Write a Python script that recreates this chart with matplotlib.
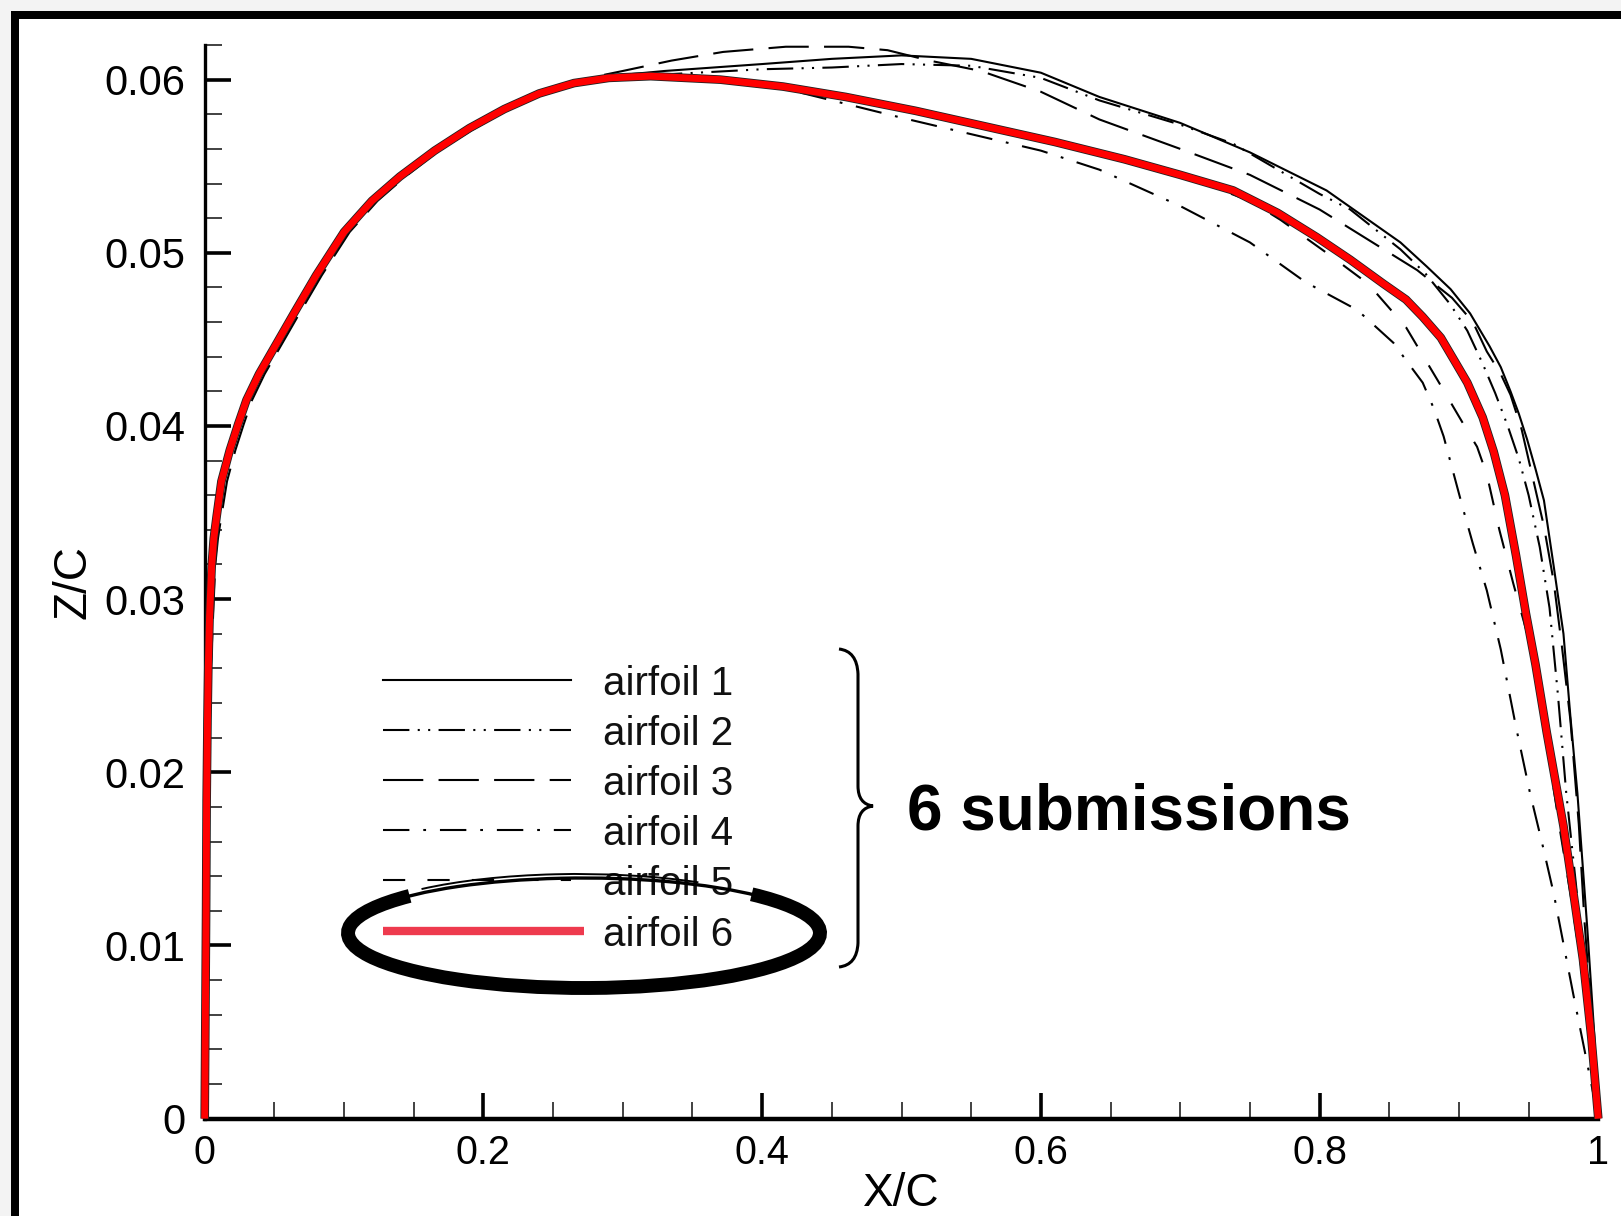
import matplotlib
matplotlib.use("Agg")
import matplotlib.pyplot as plt
import matplotlib.patheffects as pe
from matplotlib.patches import Rectangle, Arc, PathPatch
from matplotlib.path import Path
from matplotlib.lines import Line2D
from matplotlib.ticker import MultipleLocator, FuncFormatter
from matplotlib.transforms import IdentityTransform

plt.rcParams['font.family'] = ['Liberation Sans', 'DejaVu Sans']
plt.rcParams['lines.scale_dashes'] = False

# ---- data (x/c, z/c) ----
names = ["airfoil 1", "airfoil 2", "airfoil 3", "airfoil 4", "airfoil 5", "airfoil 6"]

# leading edge, where airfoils 1, 2, 4, 5 and 6 lie on top of each other
le_x = [0.0, 0.0005, 0.001, 0.0014, 0.002, 0.0026, 0.0035, 0.005, 0.0065, 0.0086, 0.012, 0.018,
        0.024, 0.030, 0.039, 0.049, 0.064, 0.080, 0.100, 0.120, 0.140, 0.165, 0.190, 0.215, 0.240, 0.265]
le_z = [0.0, 0.0060, 0.0120, 0.0184, 0.0230, 0.0261, 0.0290, 0.0319, 0.0335, 0.0348, 0.0368, 0.0386,
        0.0401, 0.0415, 0.0430, 0.0444, 0.0465, 0.0487, 0.0512, 0.0530, 0.0544, 0.0559, 0.0572, 0.0583, 0.0592, 0.0598]

# aft part of each airfoil
x1 = [0.290, 0.330, 0.400, 0.450, 0.500, 0.550, 0.600, 0.642, 0.700, 0.750, 0.805, 0.858, 0.877,
      0.894, 0.908, 0.922, 0.930, 0.937, 0.943, 0.949, 0.955, 0.961, 0.968, 0.975, 0.980, 0.985,
      0.992, 0.997, 1.0]
z1 = [0.0602, 0.0605, 0.0609, 0.0612, 0.0614, 0.0612, 0.0604, 0.0590, 0.0575, 0.0558, 0.0536, 0.0506, 0.0492,
      0.0479, 0.0465, 0.0446, 0.0434, 0.0420, 0.0407, 0.0392, 0.0375, 0.0357, 0.0319, 0.0280, 0.0232, 0.0188,
      0.0111, 0.0050, 0.0]

x2 = [0.290, 0.330, 0.400, 0.450, 0.500, 0.550, 0.600, 0.642, 0.700, 0.738, 0.800, 0.822, 0.858,
      0.876, 0.894, 0.906, 0.917, 0.926, 0.935, 0.943, 0.950, 0.958, 0.965, 0.971, 0.977, 0.984,
      0.990, 0.996, 1.0]
z2 = [0.0601, 0.0603, 0.0606, 0.0607, 0.0609, 0.0608, 0.0601, 0.0588, 0.0574, 0.0563, 0.0534, 0.0525, 0.0502,
      0.0488, 0.0470, 0.0455, 0.0436, 0.0419, 0.0400, 0.0381, 0.0360, 0.0330, 0.0295, 0.0245, 0.0188, 0.0135,
      0.0085, 0.0035, 0.0]

x3 = [0.0, 0.0006, 0.0015, 0.0024, 0.003, 0.0045, 0.006, 0.0075, 0.0095, 0.012, 0.016, 0.022, 0.028,
      0.034, 0.043, 0.053, 0.068, 0.084, 0.104, 0.124, 0.144, 0.168, 0.192, 0.216, 0.240, 0.262,
      0.282, 0.300, 0.335, 0.372, 0.417, 0.462, 0.490, 0.520, 0.557, 0.600, 0.642, 0.700, 0.750,
      0.800, 0.840, 0.870, 0.895, 0.910, 0.920, 0.930, 0.937, 0.945, 0.953, 0.961, 0.968, 0.974,
      0.980, 0.986, 0.990, 0.996, 1.0]
z3 = [0.0, 0.0060, 0.0120, 0.0184, 0.0230, 0.0261, 0.0290, 0.0319, 0.0335, 0.0348, 0.0368, 0.0386, 0.0401,
      0.0415, 0.0430, 0.0444, 0.0465, 0.0487, 0.0512, 0.0530, 0.0544, 0.0559, 0.0571, 0.0582, 0.0592, 0.0598,
      0.0602, 0.0605, 0.0611, 0.0616, 0.0619, 0.0619, 0.0617, 0.0611, 0.0605, 0.0593, 0.0577, 0.0560, 0.0545,
      0.0525, 0.0505, 0.0490, 0.0474, 0.0460, 0.0443, 0.0430, 0.0418, 0.0398, 0.0370, 0.0342, 0.0310, 0.0272,
      0.0230, 0.0170, 0.0115, 0.0050, 0.0]

x4 = [0.290, 0.320, 0.370, 0.420, 0.500, 0.600, 0.642, 0.700, 0.750, 0.790, 0.827, 0.853, 0.862,
      0.874, 0.882, 0.889, 0.896, 0.903, 0.910, 0.920, 0.930, 0.941, 0.951, 0.960, 0.968, 0.975,
      0.982, 0.991, 1.0]
z4 = [0.0601, 0.0602, 0.0600, 0.0594, 0.0578, 0.0559, 0.0548, 0.0527, 0.0506, 0.0483, 0.0467, 0.0448, 0.0438,
      0.0425, 0.0410, 0.0394, 0.0373, 0.0352, 0.0332, 0.0305, 0.0271, 0.0226, 0.0188, 0.0158, 0.0130, 0.0101,
      0.0072, 0.0036, 0.0]

x5 = [0.290, 0.320, 0.370, 0.415, 0.460, 0.510, 0.560, 0.610, 0.660, 0.700, 0.750, 0.772, 0.805,
      0.835, 0.862, 0.885, 0.904, 0.913, 0.920, 0.929, 0.939, 0.949, 0.956, 0.964, 0.972, 0.980,
      0.987, 0.994, 1.0]
z5 = [0.0601, 0.0602, 0.0600, 0.0596, 0.0590, 0.0582, 0.0573, 0.0564, 0.0554, 0.0545, 0.0530, 0.0519, 0.0500,
      0.0482, 0.0457, 0.0426, 0.0400, 0.0388, 0.0372, 0.0340, 0.0309, 0.0280, 0.0252, 0.0212, 0.0169, 0.0130,
      0.0092, 0.0046, 0.0]

x6 = [0.290, 0.320, 0.370, 0.415, 0.460, 0.510, 0.560, 0.610, 0.660, 0.700, 0.738, 0.770, 0.798,
      0.822, 0.846, 0.862, 0.874, 0.887, 0.898, 0.906, 0.917, 0.925, 0.933, 0.941, 0.948, 0.955,
      0.963, 0.975, 0.982, 0.989, 0.995, 1.0]
z6 = [0.0601, 0.0602, 0.0600, 0.0596, 0.0590, 0.0582, 0.0573, 0.0564, 0.0554, 0.0545, 0.0536, 0.0523, 0.0509,
      0.0496, 0.0482, 0.0473, 0.0463, 0.0451, 0.0436, 0.0425, 0.0405, 0.0385, 0.0360, 0.0325, 0.0292, 0.0262,
      0.0223, 0.0169, 0.0131, 0.0092, 0.0047, 0.0]

xs = [le_x + x1, le_x + x2, x3, le_x + x4, le_x + x5, le_x + x6]
zs = [le_z + z1, le_z + z2, z3, le_z + z4, le_z + z5, le_z + z6]

# line styles (points, unscaled dashes)
dashes = ["solid", (0, (19, 6, 1.5, 6, 1.5, 6)), (0, (29, 11)), (0, (19, 10, 2, 10)), (0, (16, 16)), "solid"]

W, H = 1621, 1216
fig = plt.figure(figsize=(W / 100, H / 100), dpi=100, facecolor="#f3f3f3")


def disp(x, y):
    # picture pixel (y down) -> display pixel (y up)
    return x, H - y


# screenshot frame
frame = Rectangle(disp(15, H + 60), W + 100, H + 60 - 15, transform=IdentityTransform(),
                  facecolor="white", edgecolor="black", linewidth=8 * 0.72, zorder=-10)
fig.add_artist(frame)

x0, x1px, y0, ytop = 204.7, 1598.3, 1118.6, 45.0
ax = fig.add_axes([x0 / W, 1 - y0 / H, (x1px - x0) / W, (y0 - ytop) / H])
ax.set_facecolor("none")

for i in range(5):
    ax.plot(xs[i], zs[i], color="black", lw=1.5, linestyle=dashes[i], clip_on=False, zorder=2)
ax.plot(xs[5], zs[5], color="#ff0000", lw=5, solid_capstyle="butt", solid_joinstyle="round",
        clip_on=False, zorder=3,
        path_effects=[pe.Stroke(linewidth=6.2, foreground="#202020"), pe.Normal()])

ax.set_xlim(0, 1)
ax.set_ylim(0, 0.062)
for s in ["top", "right"]:
    ax.spines[s].set_visible(False)
ax.spines["left"].set_linewidth(2.4)
ax.spines["bottom"].set_linewidth(3.2)

ax.xaxis.set_major_locator(MultipleLocator(0.2))
ax.xaxis.set_minor_locator(MultipleLocator(0.05))
ax.yaxis.set_major_locator(MultipleLocator(0.01))
ax.yaxis.set_minor_locator(MultipleLocator(0.002))
ax.xaxis.set_major_formatter(FuncFormatter(lambda v, p: "%g" % round(v, 3)))
ax.yaxis.set_major_formatter(FuncFormatter(lambda v, p: "0" if abs(v) < 1e-9 else "%.2f" % v))
ax.tick_params(which="major", direction="in", length=19, width=2.6, color="black")
ax.tick_params(which="minor", direction="in", length=12, width=1.3, color="#333333")
ax.tick_params(axis="y", which="major", labelsize=30, pad=14)
ax.tick_params(axis="x", which="major", labelsize=28.5, pad=11)
ax.set_xlabel("X/C", fontsize=33, labelpad=0)
ax.set_ylabel("Z/C", fontsize=33, labelpad=6)

# hand-made legend
row_y = [680, 730, 780, 830, 880, 931]
for i in range(6):
    xa, ya = disp(382.5, row_y[i])
    xb, yb = disp(584 if i == 5 else 570.6, row_y[i])
    if i < 5:
        fig.add_artist(Line2D([xa, xb], [ya, yb], transform=IdentityTransform(), color="black",
                              lw=1.5, linestyle=dashes[i]))
    else:
        fig.add_artist(Line2D([xa, xb], [ya, yb], transform=IdentityTransform(), color="#ee3a4e",
                              lw=6, solid_capstyle="butt"))
    tx, ty = disp(602.7, row_y[i] + 15)
    fig.text(tx / W, ty / H, names[i], fontsize=29, ha="left", va="baseline", color="#111111")

# hand-drawn ellipse around airfoil 6
cx, cy = disp(584, 933)
fig.add_artist(Arc((cx, cy), 472, 110, theta1=168, theta2=373, transform=IdentityTransform(),
                   color="black", lw=10, zorder=6))
fig.add_artist(Arc((cx, cy), 472, 110, theta1=12, theta2=172, transform=IdentityTransform(),
                   color="black", lw=2.4, zorder=6))
fig.add_artist(Arc((cx - 6, cy + 2), 462, 114, theta1=22, theta2=165, transform=IdentityTransform(),
                   color="black", lw=1.4, zorder=6))

# curly brace
pts = [(839, 649), (857, 651), (858, 674), (858, 786), (858, 804), (873, 806),
       (858, 808), (858, 826), (858, 943), (857, 965), (839, 967)]
codes = [Path.MOVETO, Path.CURVE3, Path.CURVE3, Path.LINETO, Path.CURVE3, Path.CURVE3,
         Path.CURVE3, Path.CURVE3, Path.LINETO, Path.CURVE3, Path.CURVE3]
brace = Path([disp(px, py) for px, py in pts], codes)
fig.add_artist(PathPatch(brace, transform=IdentityTransform(), fill=False, edgecolor="black",
                         lw=2.2, zorder=6))

tx, ty = disp(907, 829)
fig.text(tx / W, ty / H, "6 submissions", fontsize=46, fontweight="bold", ha="left", va="baseline")

fig.savefig("out.png", dpi=100, facecolor=fig.get_facecolor())
